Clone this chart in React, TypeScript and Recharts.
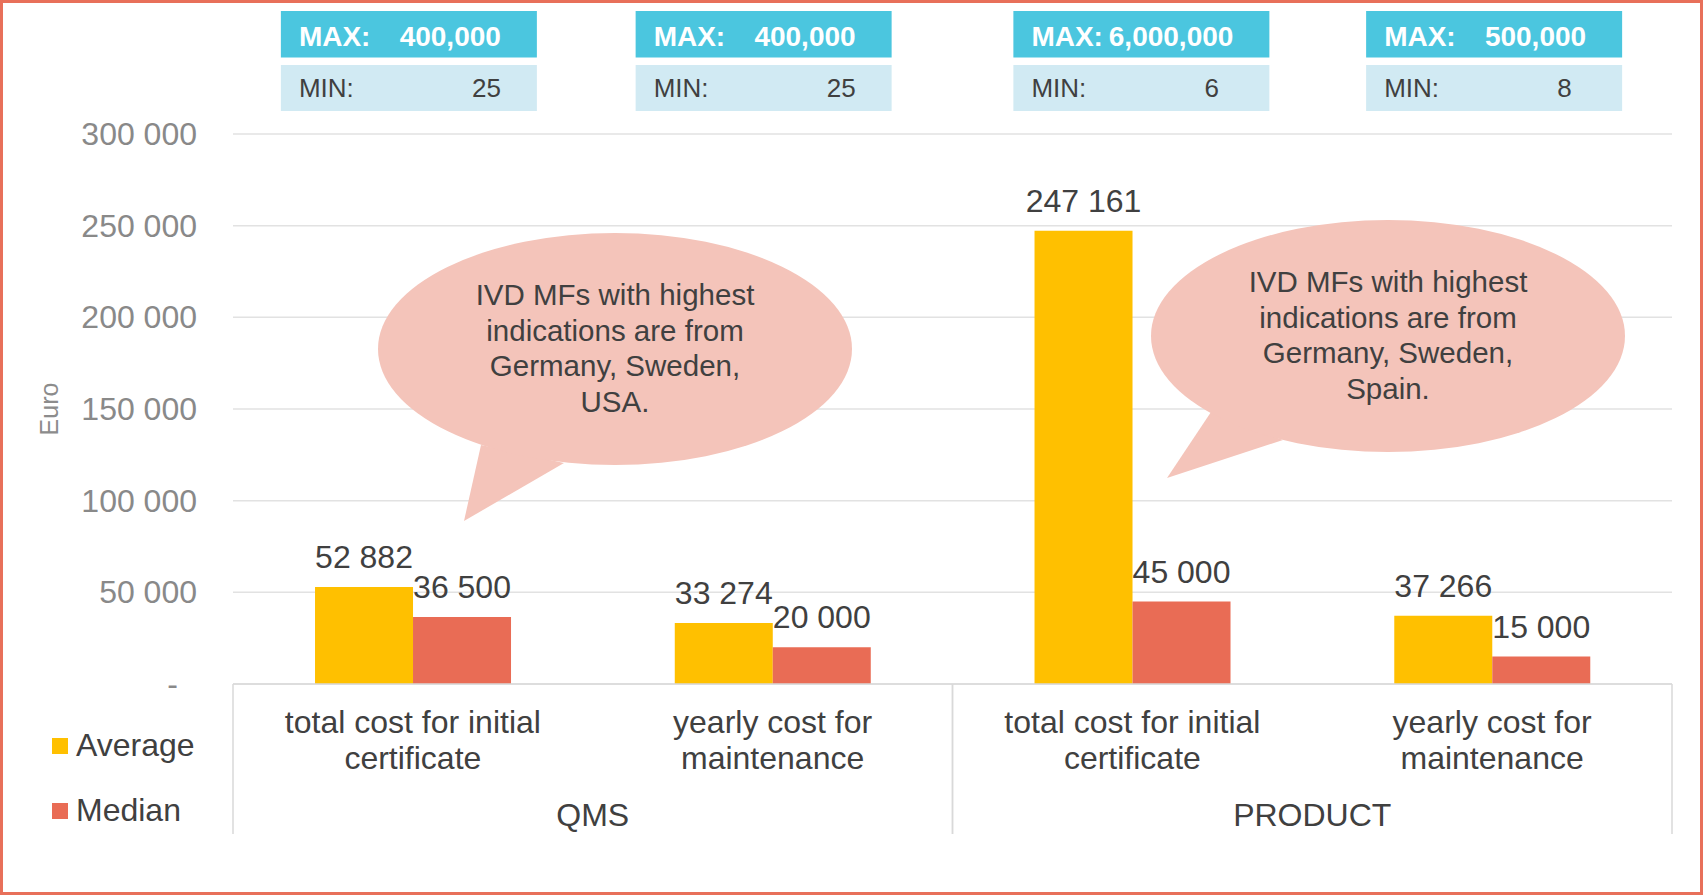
import { BarChart, Bar, XAxis, YAxis, CartesianGrid, LabelList, Legend, Label } from 'recharts';

const categories = [
    'total cost for initial certificate',
    'yearly cost for maintenance',
    'total cost for initial certificate',
    'yearly cost for maintenance',
];
const categoryLines = [
    ['total cost for initial', 'certificate'],
    ['yearly cost for', 'maintenance'],
    ['total cost for initial', 'certificate'],
    ['yearly cost for', 'maintenance'],
];
const groups = ['QMS', 'QMS', 'PRODUCT', 'PRODUCT'];
const averageValues = [52882, 33274, 247161, 37266];
const medianValues = [36500, 20000, 45000, 15000];
const maxLabels = ['400,000', '400,000', '6,000,000', '500,000'];
const minLabels = ['25', '25', '6', '8'];
const yTicks = [0, 50000, 100000, 150000, 200000, 250000, 300000];

const bubbleLines = [
    ['IVD MFs with highest', 'indications are from', 'Germany, Sweden,', 'USA.'],
    ['IVD MFs with highest', 'indications are from', 'Germany, Sweden,', 'Spain.'],
];

const data = categories.map((name, i) => ({
    id: i,
    name,
    group: groups[i],
    average: averageValues[i],
    median: medianValues[i],
}));

const W = 1703;
const H = 895;
const Y_AXIS_W = 233;
const RIGHT_M = 31;
const TOP_AXIS_H = 134;
const CAT_AXIS_H = 105;
const GROUP_AXIS_H = 106;
const PLOT_W = W - Y_AXIS_W - RIGHT_M;

// the MAX/MIN boxes were placed by hand, a little off the category centres
const boxShift = [-4, -9, 9, 2];

const FONT = '"Liberation Sans", Arial, sans-serif';
const TEXT = '#404040';
const GRID = '#E2E2E2';
const AVG = '#FFC000';
const MED = '#E96C55';
const BUBBLE = '#F4C4BA';

const fmt = (v: number) => String(v).replace(/\B(?=(\d{3})+(?!\d))/g, ' ');

const YTick = ({ x, y, payload }: any) => {
    const v = payload.value;
    return (
        <text x={v === 0 ? x - 19 : x} y={y} dy={11} textAnchor="end" fontSize={32} fill="#898989" fontFamily={FONT}>
            {v === 0 ? '-' : fmt(v)}
        </text>
    );
};

const CatTick = ({ x, y, payload }: any) => {
    const lines = categoryLines[payload.index] || [String(payload.value)];
    return (
        <text textAnchor="middle" fontSize={32} fill={TEXT} fontFamily={FONT}>
            {lines.map((l, k) => (
                <tspan key={k} x={x} y={y + 49 + k * 36}>{l}</tspan>
            ))}
        </text>
    );
};

const GroupTick = ({ x, y, payload }: any) => {
    const half = PLOT_W / 4;
    return (
        <g>
            <line x1={x - half} x2={x - half} y1={y - CAT_AXIS_H} y2={y + 45} stroke="#D9D9D9" strokeWidth={1.5} />
            <line x1={x + half} x2={x + half} y1={y - CAT_AXIS_H} y2={y + 45} stroke="#D9D9D9" strokeWidth={1.5} />
            <text x={x} y={y + 37} textAnchor="middle" fontSize={32} fill={TEXT} fontFamily={FONT}>
                {payload.value}
            </text>
        </g>
    );
};

const BoxTick = ({ x, payload }: any) => {
    const i = payload.index;
    const cx = x + (boxShift[i] || 0);
    const minText = minLabels[i] || '';
    // min values sit right-aligned in a two-digit field
    const minDx = -Math.max(0, 2 - minText.length) * 0.556 * 26;
    return (
        <g fontFamily={FONT}>
            <rect x={cx - 128} y={11} width={256} height={46.5} fill="#4BC6DF" />
            <text x={cx - 110} y={46} fontSize={28} fontWeight="bold" fill="#fff">MAX:</text>
            <text x={cx + 92} y={46} fontSize={28} fontWeight="bold" fill="#fff" textAnchor="end">{maxLabels[i]}</text>
            <rect x={cx - 128} y={65} width={256} height={46} fill="#D1EAF3" />
            <text x={cx - 110} y={97} fontSize={26} fill={TEXT}>MIN:</text>
            <text x={cx + 92 + minDx} y={97} fontSize={26} fill={TEXT} textAnchor="end">{minText}</text>
        </g>
    );
};

const EuroLabel = ({ viewBox }: any) => {
    const cy = viewBox.y + viewBox.height / 2;
    return (
        <text x={49} y={cy} transform={`rotate(-90 49 ${cy})`} textAnchor="middle" dominantBaseline="central" fontSize={25} fill="#8C8C8C" fontFamily={FONT}>
            Euro
        </text>
    );
};

const LegendContent = () => (
    <div style={{ fontFamily: FONT, fontSize: 32, color: TEXT }}>
        {[{ c: AVG, n: 'Average' }, { c: MED, n: 'Median' }].map((it) => (
            <div key={it.n} style={{ height: 65, display: 'flex', alignItems: 'center' }}>
                <span style={{ width: 16, height: 16, background: it.c, display: 'inline-block', marginRight: 8 }} />
                <span>{it.n}</span>
            </div>
        ))}
    </div>
);

// speech bubbles: ellipse + tail
const bubbles = [
    { cx: 615, cy: 349, rx: 237, ry: 116, tail: [[481, 445], [464, 521], [564, 463]], base: 305 },
    { cx: 1388, cy: 336, rx: 237, ry: 116, tail: [[1211, 412], [1167, 478], [1283, 440]], base: 292 },
];

const Bubbles = () => (
    <svg width={W} height={H} style={{ position: 'absolute', left: 0, top: 0, pointerEvents: 'none' }}>
        {bubbles.map((b, i) => (
            <g key={i}>
                <polygon points={b.tail.map((p) => p.join(',')).join(' ')} fill={BUBBLE} />
                <ellipse cx={b.cx} cy={b.cy} rx={b.rx} ry={b.ry} fill={BUBBLE} />
                <text textAnchor="middle" fontSize={29.5} fill={TEXT} fontFamily={FONT}>
                    {bubbleLines[i].map((l, k) => (
                        <tspan key={k} x={b.cx} y={b.base + k * 35.5}>{l}</tspan>
                    ))}
                </text>
            </g>
        ))}
        <rect x={1.5} y={1.5} width={W - 3} height={H - 3} fill="none" stroke="#E8705A" strokeWidth={3} />
    </svg>
);

const App = () => {
    return (
        <div style={{ position: 'absolute', left: 0, top: 0, width: W, height: H, background: '#fff' }}>
            <BarChart
                width={W}
                height={H}
                data={data}
                margin={{ top: 0, right: RIGHT_M, left: 0, bottom: 0 }}
                barCategoryGap="22.8%"
                barGap={0}
            >
                <CartesianGrid vertical={false} stroke={GRID} strokeWidth={1.5} />
                <XAxis
                    xAxisId="top"
                    orientation="top"
                    dataKey="id"
                    height={TOP_AXIS_H}
                    axisLine={false}
                    tickLine={false}
                    tickSize={0}
                    tickMargin={0}
                    tick={<BoxTick />}
                />
                <XAxis
                    xAxisId="cat"
                    dataKey="id"
                    height={CAT_AXIS_H}
                    axisLine={{ stroke: '#D9D9D9', strokeWidth: 1.5 }}
                    tickLine={false}
                    tickSize={0}
                    tickMargin={0}
                    tick={<CatTick />}
                    interval={0}
                />
                <XAxis
                    xAxisId="group"
                    dataKey="group"
                    allowDuplicatedCategory={false}
                    height={GROUP_AXIS_H}
                    axisLine={false}
                    tickLine={false}
                    tickSize={0}
                    tickMargin={0}
                    tick={<GroupTick />}
                    interval={0}
                />
                <YAxis
                    width={Y_AXIS_W}
                    domain={[0, 300000]}
                    ticks={yTicks}
                    axisLine={false}
                    tickLine={false}
                    tickSize={0}
                    tickMargin={36}
                    tick={<YTick />}
                    interval={0}
                >
                    <Label content={<EuroLabel />} />
                </YAxis>
                <Legend
                    layout="horizontal"
                    align="center"
                    verticalAlign="middle"
                    content={<LegendContent />}
                    wrapperStyle={{ left: 52, top: 713, width: 200, height: 130 }}
                />
                <Bar xAxisId="cat" dataKey="average" name="Average" fill={AVG} isAnimationActive={false}>
                    <LabelList dataKey="average" position="top" offset={19} formatter={(v: any) => fmt(v)} fill={TEXT} fontSize={32} fontFamily={FONT} />
                </Bar>
                <Bar xAxisId="cat" dataKey="median" name="Median" fill={MED} isAnimationActive={false}>
                    <LabelList dataKey="median" position="top" offset={19} formatter={(v: any) => fmt(v)} fill={TEXT} fontSize={32} fontFamily={FONT} />
                </Bar>
            </BarChart>
            <Bubbles />
        </div>
    );
};

export default App;
